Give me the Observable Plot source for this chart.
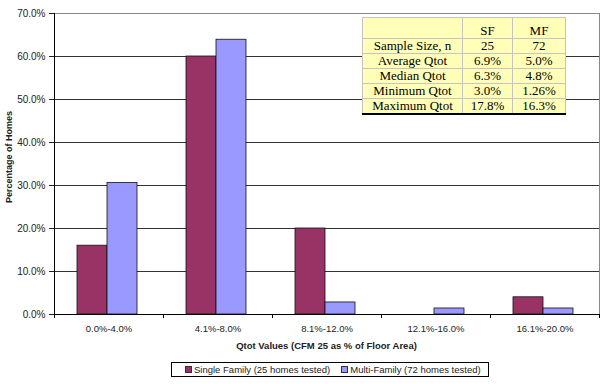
<!DOCTYPE html>
<html><head><meta charset="utf-8">
<script src="https://cdn.jsdelivr.net/npm/d3@7"></script>
<script src="https://cdn.jsdelivr.net/npm/@observablehq/plot@0.6"></script>
<style>
body{margin:0;background:#fff;}
#wrap{position:relative;width:607px;height:384px;overflow:hidden;font-family:"Liberation Sans",Arial,sans-serif;color:#222;}
#wrap svg{position:absolute;left:0;top:0;}
#stats{position:absolute;left:362px;top:17px;width:203px;table-layout:fixed;border-collapse:collapse;font-family:"Liberation Serif","Times New Roman",serif;font-size:13px;color:#000;background:repeating-conic-gradient(#ffff70 0 25%,#ffffff 0 50%) 0 0/2px 2px;}
#stats td{border:1px solid #c4c4c4;text-align:center;padding:0;line-height:14px;height:14px;white-space:nowrap;}
#stats tr.hdr td{height:20px;vertical-align:bottom;}
#stats tr:last-child td{border-bottom:2.5px solid #000;}
#xtitle{position:absolute;left:52px;width:549px;top:340px;text-align:center;font-weight:bold;font-size:9.5px;line-height:11px;color:#222;}
#ytitle{position:absolute;left:9px;top:157px;transform:translate(-50%,-50%) rotate(-90deg);white-space:nowrap;font-weight:bold;font-size:9px;line-height:10px;color:#222;}
#legend{position:absolute;left:171px;top:362px;width:318px;height:15px;box-sizing:border-box;border:1px solid #000;display:flex;align-items:center;padding-left:13px;font-size:9.5px;color:#222;}
#legend .item{display:flex;align-items:center;margin-right:11px;white-space:nowrap;}
#legend .sw{width:5px;height:5px;border:1px solid #333;margin-right:2px;}
</style></head><body><div id="wrap"></div>
<script>
const categories = ["0.0%-4.0%","4.1%-8.0%","8.1%-12.0%","12.1%-16.0%","16.1%-20.0%"];
const seriesKeys = ["SF","MF"];
const seriesNames = ["Single Family (25 homes tested)","Multi-Family (72 homes tested)"];
const singleFamily = [16.0,60.0,20.0,0.0,4.0];
const multiFamily = [30.6,63.9,2.8,1.4,1.4];
const yTicks = [0,10,20,30,40,50,60,70];
const tableHeader = ["","SF","MF"];
const tableLabels = ["Sample Size, n","Average Qtot","Median Qtot","Minimum Qtot","Maximum Qtot"];
const tableSF = ["25","6.9%","6.3%","3.0%","17.8%"];
const tableMF = ["72","5.0%","4.8%","1.26%","16.3%"];
const xTitle = "Qtot Values (CFM 25 as % of Floor Area)";
const yTitle = "Percentage of Homes";
const colors = ["#993366","#9999ff"];

const data = [];
categories.forEach((c,i)=>{
  data.push({cat:c, s:seriesKeys[0], v:singleFamily[i]});
  data.push({cat:c, s:seriesKeys[1], v:multiFamily[i]});
});

const chart = Plot.plot({
  width:607, height:384, marginTop:13, marginRight:6, marginBottom:70, marginLeft:52,
  style:{fontFamily:'"Liberation Sans", Arial, sans-serif', fontSize:"9.5px", color:"#222", background:"#fff", overflow:"visible"},
  fx:{domain:categories, padding:0, label:null},
  x:{domain:seriesKeys, paddingInner:0, paddingOuter:0.77, align:0.46, axis:null},
  y:{domain:[0,70], label:null},
  color:{domain:seriesKeys, range:colors},
  marks:[
    Plot.ruleY(yTicks.filter(d=>d>0 && d<70), {stroke:"#333", strokeWidth:1}),
    Plot.barY(data.filter(d=>d.v>0), {fx:"cat", x:"s", y:"v", fill:"s", stroke:"#111", strokeWidth:0.8}),
    Plot.axisY({ticks:yTicks, tickFormat:d=>d.toFixed(1)+"%", tickSize:5, tickPadding:4, label:null, fontSize:10}),
    Plot.axisFx({anchor:"bottom", tickSize:0, tickPadding:11, label:null})
  ]
});

const wrap = document.getElementById("wrap");
wrap.appendChild(chart);

// frame, axis lines and category boundary ticks from the library's scales
const fxS = chart.scale("fx"), yS = chart.scale("y");
const bw = fxS.bandwidth;
const xs = categories.map(c=>fxS.apply(c));
const xL = xs[0], xR = xs[xs.length-1] + bw;
const yT = yS.apply(70), yB = yS.apply(0);
const g = d3.select(chart).append("g").attr("shape-rendering","crispEdges");
g.append("line").attr("x1",xL).attr("x2",xR).attr("y1",yT).attr("y2",yT).attr("stroke","#888");
g.append("line").attr("x1",xR).attr("x2",xR).attr("y1",yT).attr("y2",yB).attr("stroke","#888");
g.append("line").attr("x1",xL).attr("x2",xL).attr("y1",yT).attr("y2",yB).attr("stroke","#000");
g.append("line").attr("x1",xL).attr("x2",xR).attr("y1",yB).attr("y2",yB).attr("stroke","#000");
[...xs, xR].forEach(x=>{
  g.append("line").attr("x1",x).attr("x2",x).attr("y1",yB).attr("y2",yB+4).attr("stroke","#000");
});

// titles
const xt = document.createElement("div"); xt.id="xtitle"; xt.textContent=xTitle; wrap.appendChild(xt);
const yt = document.createElement("div"); yt.id="ytitle"; yt.textContent=yTitle; wrap.appendChild(yt);

// stats table
const tbl = document.createElement("table"); tbl.id="stats";
const cg = document.createElement("colgroup");
[100,50,53].forEach(w=>{const c=document.createElement("col"); c.style.width=w+"px"; cg.appendChild(c);});
tbl.appendChild(cg);
const hr = tbl.insertRow(); hr.className="hdr";
tableHeader.forEach(h=>{hr.insertCell().textContent=h;});
tableLabels.forEach((l,i)=>{
  const r = tbl.insertRow();
  r.insertCell().textContent=l;
  r.insertCell().textContent=tableSF[i];
  r.insertCell().textContent=tableMF[i];
});
wrap.appendChild(tbl);

// legend
const lg = document.createElement("div"); lg.id="legend";
seriesNames.forEach((n,i)=>{
  const it=document.createElement("div"); it.className="item";
  const sw=document.createElement("div"); sw.className="sw"; sw.style.background=colors[i];
  const tx=document.createElement("span"); tx.textContent=n;
  it.appendChild(sw); it.appendChild(tx); lg.appendChild(it);
});
wrap.appendChild(lg);
</script>
</body></html>
